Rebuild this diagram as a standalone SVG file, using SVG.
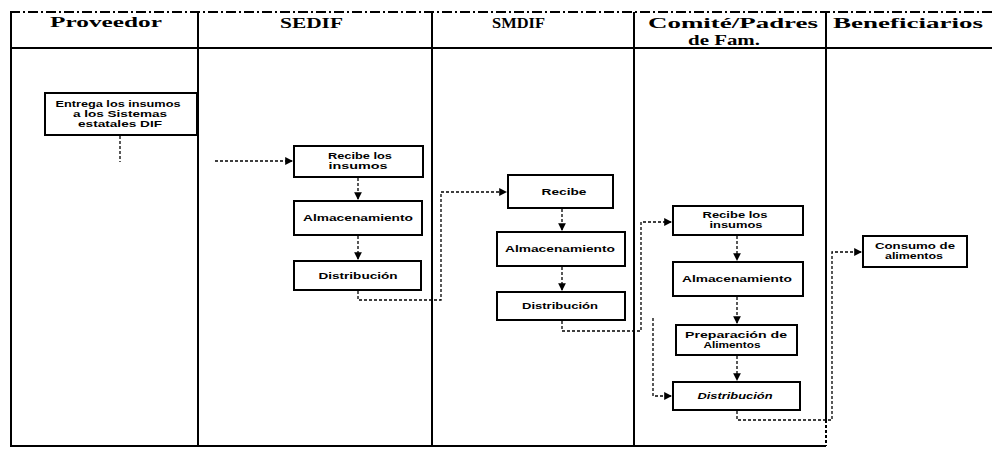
<svg xmlns="http://www.w3.org/2000/svg" width="992" height="449" viewBox="0 0 992 449">
<defs>
<style>
.hdr{font-family:"Liberation Serif","Times New Roman",serif;font-weight:bold;font-size:14px;fill:#000}
.lane{stroke:#000;stroke-width:2;fill:none}
.box{fill:#fff;stroke:#000;stroke-width:2}
.lbl{font-family:"Liberation Sans",Arial,sans-serif;font-weight:bold;font-size:9.5px;fill:#000;text-anchor:middle}
.con{fill:none;stroke:#000;stroke-width:1.3;stroke-dasharray:3 2}
</style>
<marker id="ah" viewBox="0 0 8 8" refX="7" refY="4" markerWidth="6" markerHeight="6" orient="auto">
<path d="M0,0 L8,4 L0,8 z" fill="#000"/>
</marker>
</defs>
<rect x="0" y="0" width="992" height="449" fill="#fff"/>
<g id="lanes">
<path class="lane" d="M10,12 H992" stroke-dasharray="10 3 2 3"/>
<path class="lane" d="M10,48 H992"/>
<path class="lane" d="M11,12 V446"/>
<path class="lane" d="M198,12 V446"/>
<path class="lane" d="M432,12 V446"/>
<path class="lane" d="M634,12 V446"/>
<path class="lane" d="M826,12 V420"/>
<path class="lane" d="M826,420 V446" stroke-dasharray="3 2"/>
<path class="lane" d="M10,446 H826"/>
<text class="hdr" x="50" y="27" textLength="112" lengthAdjust="spacingAndGlyphs">Proveedor</text>
<text class="hdr" x="280" y="28" textLength="63" lengthAdjust="spacingAndGlyphs">SEDIF</text>
<text class="hdr" x="492" y="28" textLength="53" lengthAdjust="spacingAndGlyphs">SMDIF</text>
<text class="hdr" x="648" y="28" textLength="170" lengthAdjust="spacingAndGlyphs">Comité/Padres</text>
<text class="hdr" x="688" y="45" textLength="72" lengthAdjust="spacingAndGlyphs">de Fam.</text>
<text class="hdr" x="833" y="28" textLength="150" lengthAdjust="spacingAndGlyphs">Beneficiarios</text>
</g>
<g id="connectors">
<path class="con" d="M120,136 V162"/>
<path class="con" d="M215,161 H292" marker-end="url(#ah)"/>
<path class="con" d="M358,178 V199" marker-end="url(#ah)"/>
<path class="con" d="M358,236 V259" marker-end="url(#ah)"/>
<path class="con" d="M358,291 V300 H441 V192 H506" marker-end="url(#ah)"/>
<path class="con" d="M562,209 V230" marker-end="url(#ah)"/>
<path class="con" d="M562,267 V290" marker-end="url(#ah)"/>
<path class="con" d="M562,321 V331 H641 V222 H671" marker-end="url(#ah)"/>
<path class="con" d="M737,236 V260" marker-end="url(#ah)" stroke-dasharray="none"/>
<path class="con" d="M737,297 V323" marker-end="url(#ah)"/>
<path class="con" d="M737,356 V380" marker-end="url(#ah)" stroke-dasharray="none"/>
<path class="con" d="M653,318 V396 H671" marker-end="url(#ah)"/>
<path class="con" d="M737,411 V420 H832 V252 H861" marker-end="url(#ah)"/>
</g>
<g id="n-entrega">
<rect class="box" x="45" y="93" width="152" height="42"/>
<text class="lbl" x="118" y="107" textLength="125" lengthAdjust="spacingAndGlyphs">Entrega los insumos</text>
<text class="lbl" x="120" y="117" textLength="94" lengthAdjust="spacingAndGlyphs">a los Sistemas</text>
<text class="lbl" x="120" y="127" textLength="84" lengthAdjust="spacingAndGlyphs">estatales DIF</text>
</g>
<g id="n-sedif-recibe">
<rect class="box" x="294" y="146" width="129" height="31"/>
<text class="lbl" x="360" y="159" textLength="64" lengthAdjust="spacingAndGlyphs">Recibe los</text>
<text class="lbl" x="358" y="169" textLength="59" lengthAdjust="spacingAndGlyphs">insumos</text>
</g>
<g id="n-sedif-alm">
<rect class="box" x="294" y="201" width="128" height="34"/>
<text class="lbl" x="358" y="221" textLength="110" lengthAdjust="spacingAndGlyphs">Almacenamiento</text>
</g>
<g id="n-sedif-dist">
<rect class="box" x="294" y="261" width="127" height="29"/>
<text class="lbl" x="358" y="279" textLength="79" lengthAdjust="spacingAndGlyphs">Distribución</text>
</g>
<g id="n-smdif-recibe">
<rect class="box" x="508" y="175" width="105" height="33"/>
<text class="lbl" x="564" y="195" textLength="45" lengthAdjust="spacingAndGlyphs">Recibe</text>
</g>
<g id="n-smdif-alm">
<rect class="box" x="497" y="232" width="128" height="34"/>
<text class="lbl" x="560" y="252" textLength="110" lengthAdjust="spacingAndGlyphs">Almacenamiento</text>
</g>
<g id="n-smdif-dist">
<rect class="box" x="497" y="292" width="128" height="28"/>
<text class="lbl" x="560" y="309" textLength="76" lengthAdjust="spacingAndGlyphs">Distribución</text>
</g>
<g id="n-com-recibe">
<rect class="box" x="673" y="206" width="130" height="29"/>
<text class="lbl" x="735" y="218" textLength="65" lengthAdjust="spacingAndGlyphs">Recibe los</text>
<text class="lbl" x="736" y="228" textLength="53" lengthAdjust="spacingAndGlyphs">insumos</text>
</g>
<g id="n-com-alm">
<rect class="box" x="673" y="262" width="130" height="34"/>
<text class="lbl" x="737" y="282" textLength="110" lengthAdjust="spacingAndGlyphs">Almacenamiento</text>
</g>
<g id="n-com-prep">
<rect class="box" x="676" y="325" width="121" height="30"/>
<text class="lbl" x="736" y="338" textLength="102" lengthAdjust="spacingAndGlyphs">Preparación de</text>
<text class="lbl" x="732" y="348" textLength="57" lengthAdjust="spacingAndGlyphs">Alimentos</text>
</g>
<g id="n-com-dist">
<rect class="box" x="673" y="382" width="127" height="28"/>
<text class="lbl" x="735" y="399" font-style="italic" textLength="75" lengthAdjust="spacingAndGlyphs">Distribución</text>
</g>
<g id="n-consumo">
<rect class="box" x="863" y="236" width="104" height="31"/>
<text class="lbl" x="915" y="249" textLength="80" lengthAdjust="spacingAndGlyphs">Consumo de</text>
<text class="lbl" x="914" y="259" textLength="58" lengthAdjust="spacingAndGlyphs">alimentos</text>
</g>
</svg>
